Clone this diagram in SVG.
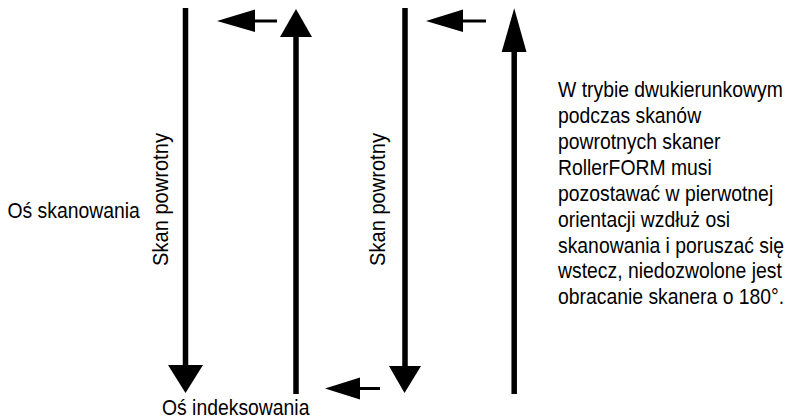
<svg xmlns="http://www.w3.org/2000/svg" width="789" height="420" viewBox="0 0 789 420">
<style>
.t{font-family:"Liberation Sans",Arial,sans-serif;font-size:22px;fill:#000}
.shaft{stroke:#000;stroke-width:5.5;fill:none}
.thin{stroke:#000;stroke-width:3;fill:none}
.head{fill:#000}
</style>
<rect width="789" height="420" fill="#fff"/>
<g id="connectors">
  <g id="arrow-scan-1">
    <line class="shaft" x1="185.5" y1="8" x2="185.5" y2="368"/>
    <polygon class="head" points="168,365 203,365 185.5,393"/>
  </g>
  <g id="arrow-return-1">
    <line class="shaft" x1="296" y1="35" x2="296" y2="394"/>
    <polygon class="head" points="280,37 312,37 296,9"/>
  </g>
  <g id="arrow-scan-2">
    <line class="shaft" x1="405" y1="8" x2="405" y2="368"/>
    <polygon class="head" points="389,366 421,366 404.5,393"/>
  </g>
  <g id="arrow-return-2">
    <line class="shaft" x1="514.2" y1="50" x2="514.2" y2="394"/>
    <polygon class="head" points="501.7,52 526.5,52 514.2,8.3"/>
  </g>
  <g id="index-top-1">
    <line class="thin" x1="254" y1="21" x2="277" y2="21"/>
    <polygon class="head" points="217,21 255,9.5 255,32"/>
  </g>
  <g id="index-top-2">
    <line class="thin" x1="462" y1="21" x2="486" y2="21"/>
    <polygon class="head" points="426,21 463,9.5 463,32"/>
  </g>
  <g id="index-bottom">
    <line class="thin" x1="359" y1="388.5" x2="380" y2="388.5"/>
    <polygon class="head" points="325,388.5 360,377.5 360,399.5"/>
  </g>
</g>
<g id="label-scan-axis">
  <text class="t" transform="translate(7.5,217.7) scale(0.88,1)">Oś skanowania</text>
</g>
<g id="label-index-axis">
  <text class="t" transform="translate(162,415) scale(0.88,1)">Oś indeksowania</text>
</g>
<g id="label-return-1">
  <text class="t" transform="translate(167.5,266) rotate(-90) scale(0.914,1)">Skan powrotny</text>
</g>
<g id="label-return-2">
  <text class="t" transform="translate(385,266) rotate(-90) scale(0.914,1)">Skan powrotny</text>
</g>
<g id="note">
  <g transform="translate(558,0) scale(0.88,1)">
    <text class="t" x="0" y="97.5">W trybie dwukierunkowym</text>
    <text class="t" x="0" y="123.4">podczas skanów</text>
    <text class="t" x="0" y="149.2">powrotnych skaner</text>
    <text class="t" x="0" y="175.1">RollerFORM musi</text>
    <text class="t" x="0" y="200.9">pozostawać w pierwotnej</text>
    <text class="t" x="0" y="226.8">orientacji wzdłuż osi</text>
    <text class="t" x="0" y="252.6">skanowania i poruszać się</text>
    <text class="t" x="0" y="278.5">wstecz, niedozwolone jest</text>
    <text class="t" x="0" y="304.3">obracanie skanera o 180°.</text>
  </g>
</g>
</svg>
